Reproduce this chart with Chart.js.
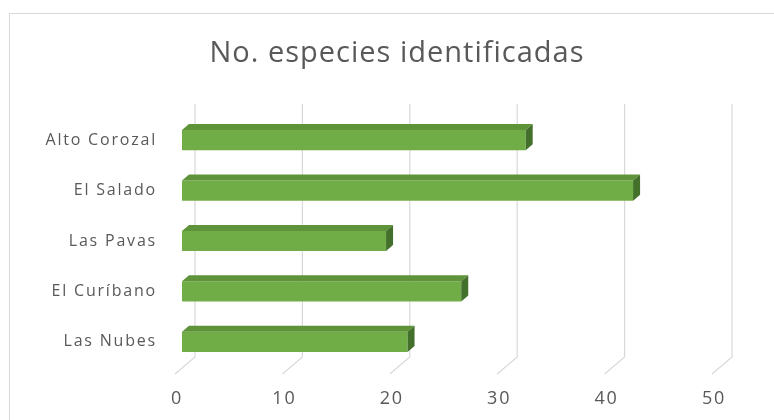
<!DOCTYPE html>
<html>
<head>
<meta charset="utf-8">
<script src="https://cdn.jsdelivr.net/npm/chart.js"></script>
<style>
    html, body { margin: 0; padding: 0; background: #ffffff; }
    #wrap { position: relative; width: 774px; height: 420px; }
    #frame { position: absolute; left: 9px; top: 13px; right: -2px; bottom: -2px; border: 1px solid #d9d9d9; }
</style>
</head>
<body>
<div id="wrap">
    <div id="frame"></div>
    <canvas id="chart" width="774" height="420"></canvas>
</div>
<script>
"use strict"

const titleText = "No. especies identificadas";
const categories = ["Alto Corozal", "El Salado", "Las Pavas", "El Curíbano", "Las Nubes"];
const speciesCount = [32, 42, 19, 26, 21];
const tickValues = [0, 10, 20, 30, 40, 50];

// Excel-like 3D look: back wall / floor gridlines, bar faces and the title
const wallAndBars3d = {
    id: 'wall3d',
    beforeDraw(chart) {
        // axis labels in the reference are loosely spaced
        chart.ctx.letterSpacing = "1.8px";
    },
    beforeDatasetsDraw(chart) {
        const { ctx, scales: { x } } = chart;
        ctx.save();
        ctx.strokeStyle = "#d9d9d9";
        ctx.lineWidth = 1.2;
        tickValues.forEach(v => {
            let px = x.getPixelForValue(v);
            ctx.beginPath();
            ctx.moveTo(px + 13, 104);
            ctx.lineTo(px + 13, 357);
            ctx.lineTo(px - 7, 374);
            ctx.stroke();
        });
        ctx.restore();
    },
    afterDatasetsDraw(chart) {
        const { ctx } = chart;
        const meta = chart.getDatasetMeta(0);
        const dx = 7, dy = 6;
        ctx.save();
        meta.data.forEach(bar => {
            let top = bar.y - bar.height / 2;
            let bottom = bar.y + bar.height / 2;
            // Top face
            ctx.fillStyle = "#5e9339";
            ctx.beginPath();
            ctx.moveTo(bar.base, top);
            ctx.lineTo(bar.base + dx, top - dy);
            ctx.lineTo(bar.x + dx, top - dy);
            ctx.lineTo(bar.x, top);
            ctx.closePath();
            ctx.fill();
            // Side face
            ctx.fillStyle = "#43702a";
            ctx.beginPath();
            ctx.moveTo(bar.x, top);
            ctx.lineTo(bar.x + dx, top - dy);
            ctx.lineTo(bar.x + dx, bottom - dy);
            ctx.lineTo(bar.x, bottom);
            ctx.closePath();
            ctx.fill();
        });
        ctx.restore();
    },
    afterDraw(chart) {
        const { ctx } = chart;
        ctx.save();
        ctx.letterSpacing = "1px";
        ctx.font = "29px 'Open Sans'";
        ctx.fillStyle = "#595959";
        ctx.textAlign = "center";
        ctx.textBaseline = "middle";
        ctx.fillText(titleText, 397, 54);
        ctx.restore();
    }
};

new Chart(document.getElementById("chart"), {
    type: 'bar',
    data: {
        labels: categories,
        datasets: [{
            data: speciesCount,
            backgroundColor: "#70ad47",
            borderWidth: 0,
            barPercentage: 0.4,
            categoryPercentage: 1.0
        }]
    },
    options: {
        indexAxis: 'y',
        responsive: false,
        animation: false,
        layout: { padding: { left: 12, right: 55, top: 115, bottom: 0 } },
        plugins: {
            legend: { display: false },
            tooltip: { enabled: false },
            title: { display: false }
        },
        scales: {
            x: {
                min: 0,
                max: 50,
                afterBuildTicks(scale) {
                    scale.ticks = tickValues.map(v => ({ value: v }));
                },
                afterFit(scale) { scale.height = 53; },
                grid: { display: false },
                border: { display: false },
                ticks: {
                    color: "#595959",
                    font: { family: "Open Sans", size: 18 },
                    padding: 13,
                    labelOffset: -5,
                    maxRotation: 0
                }
            },
            y: {
                afterFit(scale) { scale.width = 170; },
                grid: { display: false },
                border: { display: false },
                ticks: {
                    color: "#595959",
                    font: { family: "Open Sans", size: 16 },
                    padding: 17
                }
            }
        }
    },
    plugins: [wallAndBars3d]
});
</script>
</body>
</html>
